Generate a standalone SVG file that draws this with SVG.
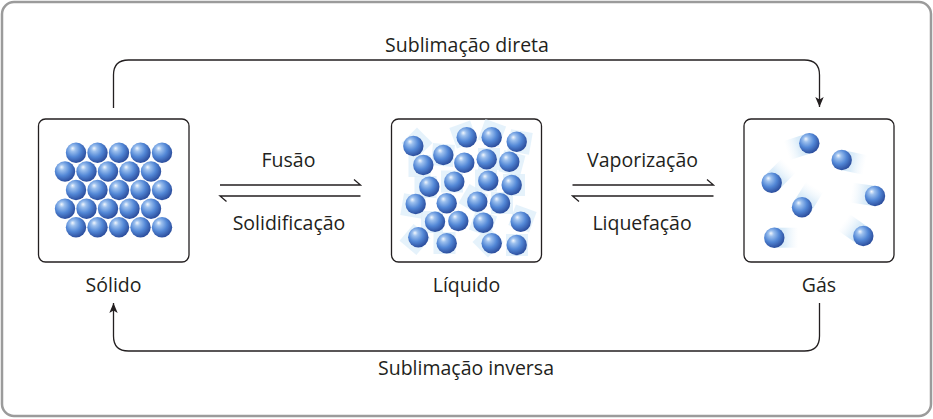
<svg xmlns="http://www.w3.org/2000/svg" width="933" height="419" viewBox="0 0 933 419">
<defs>
<radialGradient id="ball" cx="0.4" cy="0.38" r="0.62" fx="0.33" fy="0.28">
<stop offset="0" stop-color="#f2f7fd"/>
<stop offset="0.22" stop-color="#9cc0ee"/>
<stop offset="0.6" stop-color="#5287d6"/>
<stop offset="1" stop-color="#2d4f9e"/>
</radialGradient>
<linearGradient id="trail" x1="0" y1="0" x2="1" y2="0">
<stop offset="0" stop-color="#c3e0f5" stop-opacity="0.9"/>
<stop offset="0.45" stop-color="#cfe6f7" stop-opacity="0.7"/>
<stop offset="1" stop-color="#e8f3fb" stop-opacity="0"/>
</linearGradient>
<marker id="arrow" viewBox="0 0 10 10" refX="10" refY="5" markerWidth="10" markerHeight="10" markerUnits="userSpaceOnUse" orient="auto">
<path d="M0,0.8 L10,5 L0,9.2 L2.5,5 Z" fill="#231f20"/>
</marker>
<symbol id="b" overflow="visible"><circle r="10.2" fill="url(#ball)"/></symbol>
<style>
.box{fill:#fff;stroke:#231f20;stroke-width:1.3}
.ln{fill:none;stroke:#231f20;stroke-width:1.3}
.lbl{font-family:"Open Sans","Noto Sans","DejaVu Sans",sans-serif;font-size:19.5px;fill:#231f20;text-anchor:middle}
.sq{fill:#dcedf9;opacity:0.75}
.tr{fill:url(#trail)}
</style>
</defs>
<rect x="2" y="2" width="929" height="414" rx="12" fill="#fff" stroke="#9b9b9b" stroke-width="2.5"/>

<g id="connectors">
<path class="ln" d="M113.5,108 V75 Q113.5,60 128.5,60 H804.5 Q819.5,60 819.5,75 V107" marker-end="url(#arrow)"/>
<path class="ln" d="M819.5,303 V336 Q819.5,351 804.5,351 H128.5 Q113.5,351 113.5,336 V303" marker-end="url(#arrow)"/>
<path class="ln" d="M220,185 H360.5 L354,179.5"/>
<path class="ln" d="M360.5,196 H220 L226.5,201.5"/>
<path class="ln" d="M572.5,185 H713.5 L707,179.5"/>
<path class="ln" d="M713.5,196 H572.5 L579,201.5"/>
</g>

<g id="node-solido">
<rect class="box" x="38.5" y="119" width="150.5" height="143" rx="7"/>
<g>
<use href="#b" x="76" y="152.7"/><use href="#b" x="97.5" y="152.7"/><use href="#b" x="119" y="152.7"/><use href="#b" x="140.5" y="152.7"/><use href="#b" x="162" y="152.7"/>
<use href="#b" x="65" y="171.5"/><use href="#b" x="86.5" y="171.5"/><use href="#b" x="108" y="171.5"/><use href="#b" x="129.5" y="171.5"/><use href="#b" x="151" y="171.5"/>
<use href="#b" x="76" y="190"/><use href="#b" x="97.5" y="190"/><use href="#b" x="119" y="190"/><use href="#b" x="140.5" y="190"/><use href="#b" x="162" y="190"/>
<use href="#b" x="65" y="208.7"/><use href="#b" x="86.5" y="208.7"/><use href="#b" x="108" y="208.7"/><use href="#b" x="129.5" y="208.7"/><use href="#b" x="151" y="208.7"/>
<use href="#b" x="76" y="227.3"/><use href="#b" x="97.5" y="227.3"/><use href="#b" x="119" y="227.3"/><use href="#b" x="140.5" y="227.3"/><use href="#b" x="162" y="227.3"/>
</g>
<text class="lbl" x="113.5" y="291.5">Sólido</text>
</g>

<g id="node-liquido">
<rect class="box" x="391.5" y="119" width="150" height="143" rx="7"/>
<g>
<rect class="sq" x="-11" y="-11" width="22" height="22" transform="translate(417,143) rotate(45)"/>
<rect class="sq" x="-11" y="-11" width="22" height="22" transform="translate(463.5,134.5) rotate(-20)"/>
<rect class="sq" x="-11" y="-11" width="22" height="22" transform="translate(492,133) rotate(20)"/>
<rect class="sq" x="-11" y="-11" width="22" height="22" transform="translate(520,142) rotate(10)"/>
<rect class="sq" x="-11" y="-11" width="22" height="22" transform="translate(443,155) rotate(5)"/>
<rect class="sq" x="-11" y="-11" width="22" height="22" transform="translate(419.5,166) rotate(0)"/>
<rect class="sq" x="-11" y="-11" width="22" height="22" transform="translate(489,159) rotate(0)"/>
<rect class="sq" x="-11" y="-11" width="22" height="22" transform="translate(512,163.5) rotate(15)"/>
<rect class="sq" x="-11" y="-11" width="22" height="22" transform="translate(425.5,187) rotate(0)"/>
<rect class="sq" x="-11" y="-11" width="22" height="22" transform="translate(452,181.5) rotate(0)"/>
<rect class="sq" x="-11" y="-11" width="22" height="22" transform="translate(486,180.5) rotate(0)"/>
<rect class="sq" x="-11" y="-11" width="22" height="22" transform="translate(514,185) rotate(0)"/>
<rect class="sq" x="-11" y="-11" width="22" height="22" transform="translate(413,206) rotate(10)"/>
<rect class="sq" x="-11" y="-11" width="22" height="22" transform="translate(473.5,199) rotate(30)"/>
<rect class="sq" x="-11" y="-11" width="22" height="22" transform="translate(502,203) rotate(0)"/>
<rect class="sq" x="-11" y="-11" width="22" height="22" transform="translate(432,222) rotate(0)"/>
<rect class="sq" x="-11" y="-11" width="22" height="22" transform="translate(483,223) rotate(20)"/>
<rect class="sq" x="-11" y="-11" width="22" height="22" transform="translate(522.5,218.5) rotate(20)"/>
<rect class="sq" x="-11" y="-11" width="22" height="22" transform="translate(415,239.5) rotate(40)"/>
<rect class="sq" x="-11" y="-11" width="22" height="22" transform="translate(444.5,243) rotate(0)"/>
<rect class="sq" x="-11" y="-11" width="22" height="22" transform="translate(488,242) rotate(45)"/>
<rect class="sq" x="-11" y="-11" width="22" height="22" transform="translate(517,245) rotate(0)"/>
</g>
<g>
<use href="#b" x="413.3" y="146"/><use href="#b" x="466.7" y="137.3"/><use href="#b" x="491.7" y="137.3"/><use href="#b" x="516.7" y="141.7"/>
<use href="#b" x="443.3" y="155"/><use href="#b" x="423.3" y="165"/><use href="#b" x="464.3" y="162.7"/><use href="#b" x="486.7" y="159.3"/><use href="#b" x="509.3" y="161.7"/>
<use href="#b" x="429.3" y="186.7"/><use href="#b" x="454.3" y="181.7"/><use href="#b" x="488.3" y="180.7"/><use href="#b" x="511.7" y="185"/>
<use href="#b" x="415.7" y="204"/><use href="#b" x="446.7" y="203.3"/><use href="#b" x="477.3" y="201.7"/><use href="#b" x="500" y="203.3"/>
<use href="#b" x="435" y="221.7"/><use href="#b" x="458.3" y="221"/><use href="#b" x="483.3" y="222.7"/><use href="#b" x="520.7" y="221.7"/>
<use href="#b" x="418.3" y="237.3"/><use href="#b" x="446.7" y="243.3"/><use href="#b" x="491.7" y="243.3"/><use href="#b" x="516.7" y="245"/>
</g>
<text class="lbl" x="466.5" y="291.5">Líquido</text>
</g>

<g id="node-gas">
<rect class="box" x="744" y="119" width="150" height="143" rx="7"/>
<g>
<rect class="tr" x="0" y="-10" width="24" height="20" transform="translate(809.3,143.3) rotate(162)"/>
<rect class="tr" x="0" y="-10" width="24" height="20" transform="translate(841.7,160) rotate(12)"/>
<rect class="tr" x="0" y="-10" width="24" height="20" transform="translate(771.7,182.7) rotate(-45)"/>
<rect class="tr" x="0" y="-10" width="24" height="20" transform="translate(875,196) rotate(188)"/>
<rect class="tr" x="0" y="-10" width="24" height="20" transform="translate(802,207.3) rotate(-58)"/>
<rect class="tr" x="0" y="-10" width="24" height="20" transform="translate(774.3,237.7) rotate(0)"/>
<rect class="tr" x="0" y="-10" width="24" height="20" transform="translate(863.3,236) rotate(-145)"/>
</g>
<g>
<use href="#b" x="809.3" y="143.3"/><use href="#b" x="841.7" y="160"/><use href="#b" x="771.7" y="182.7"/><use href="#b" x="875" y="196"/>
<use href="#b" x="802" y="207.3"/><use href="#b" x="774.3" y="237.7"/><use href="#b" x="863.3" y="236"/>
</g>
<text class="lbl" x="819" y="291.5">Gás</text>
</g>

<g id="labels">
<text class="lbl" x="467" y="51.5">Sublimação direta</text>
<text class="lbl" x="288.5" y="166.5">Fusão</text>
<text class="lbl" x="289" y="230">Solidificação</text>
<text class="lbl" x="642.5" y="166.5">Vaporização</text>
<text class="lbl" x="642" y="230">Liquefação</text>
<text class="lbl" x="466" y="375">Sublimação inversa</text>
</g>
</svg>
